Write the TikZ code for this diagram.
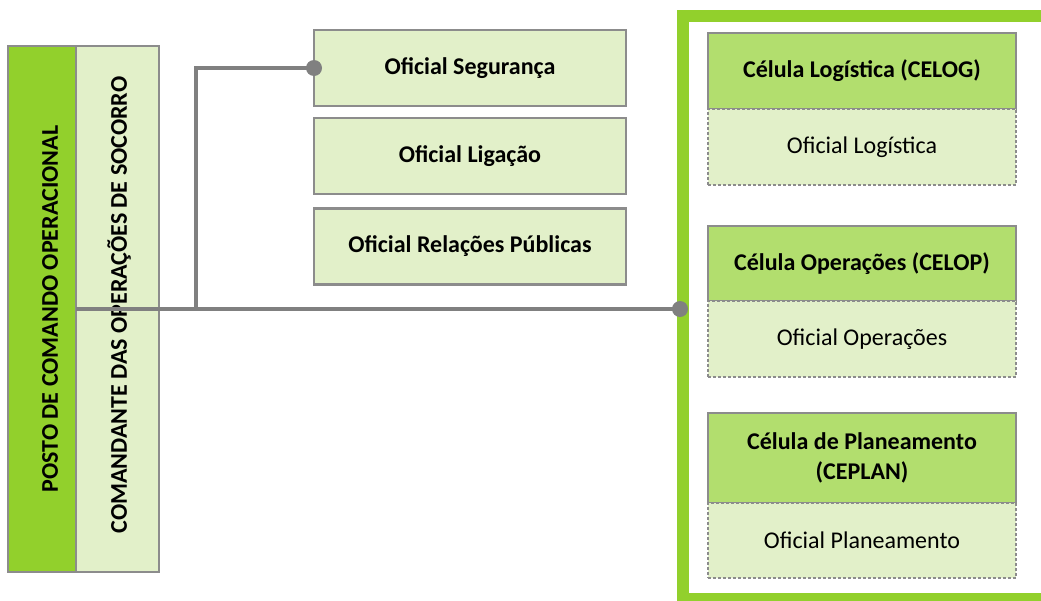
\documentclass[tikz,border=0pt]{standalone}
\usepackage{fontspec}
\setmainfont{Carlito}
\definecolor{brightg}{RGB}{146,208,44}
\definecolor{headg}{RGB}{178,222,110}
\definecolor{paleg}{RGB}{226,240,201}
\definecolor{linegray}{RGB}{128,128,128}
\definecolor{bordgray}{RGB}{140,140,140}
\begin{document}
\begin{tikzpicture}[x=1pt,y=-1pt,
  rectbox/.style={draw=bordgray, line width=1.5pt, inner sep=0pt, outer sep=0pt},
  offbox/.style={rectbox, fill=paleg, line width=2.5pt, minimum width=312pt, minimum height=76pt,
     font=\fontsize{24}{30}\selectfont\bfseries},
  headbox/.style={rectbox, fill=headg, minimum width=308pt, align=center,
     font=\fontsize{24}{30}\selectfont\bfseries},
  subbox/.style={rectbox, fill=paleg, dashed, dash pattern=on 3pt off 2pt, minimum width=308pt, minimum height=76pt,
     font=\fontsize{24}{30}\selectfont},
  vtext/.style={rotate=90, inner sep=0pt, font=\fontsize{24}{30}\selectfont\bfseries},
  conn/.style={draw=linegray, line width=4pt},
  dotc/.style={fill=linegray}
]
\useasboundingbox (0,0) rectangle (1041,600);
\clip (0,0) rectangle (1041,600);

% right frame (open on the right: cropped by the page)
\draw[brightg, line width=12pt, line join=miter] (1060,15.5) -- (683,15.5) -- (683,599) -- (1060,599);
\coordinate (framew) at (680,309);

% left column
\node[rectbox, fill=brightg, minimum width=68pt, minimum height=526pt] (pco) at (42,309) {};
\node[rectbox, fill=paleg, minimum width=83pt, minimum height=526pt] (cos) at (117.5,309) {};
\node[vtext] (pcot) at (50,309) {POSTO DE COMANDO OPERACIONAL};
\node[vtext] (cost) at (119,305) {COMANDANTE DAS OPERAÇÕES DE SOCORRO};

% officers
\node[offbox] (seg) at (470,68) {Oficial Segurança};
\node[offbox] (lig) at (470,156) {Oficial Ligação};
\node[offbox] (rp) at (470,246.5) {Oficial Relações Públicas};

% cells
\node[headbox, minimum height=76pt] (celog) at (862,71) {Célula Logística (CELOG)};
\node[subbox] (olog) at (862,147) {Oficial Logística};
\node[headbox, minimum height=75pt] (celop) at (862,263.5) {Célula Operações (CELOP)};
\node[subbox] (oop) at (862,339) {Oficial Operações};
\node[headbox, minimum height=90pt] (ceplan) at (862,458) {Célula de Planeamento\\(CEPLAN)};
\node[subbox, minimum height=75pt] (opl) at (862,540.5) {Oficial Planeamento};

% connectors
\coordinate (j) at (196,309);
\draw[conn] (pco.east) -- (framew);
\draw[conn] (j) |- (seg.west);
\fill[dotc] (seg.west) circle (8pt);
\fill[dotc] (framew) circle (8pt);
\end{tikzpicture}
\end{document}
